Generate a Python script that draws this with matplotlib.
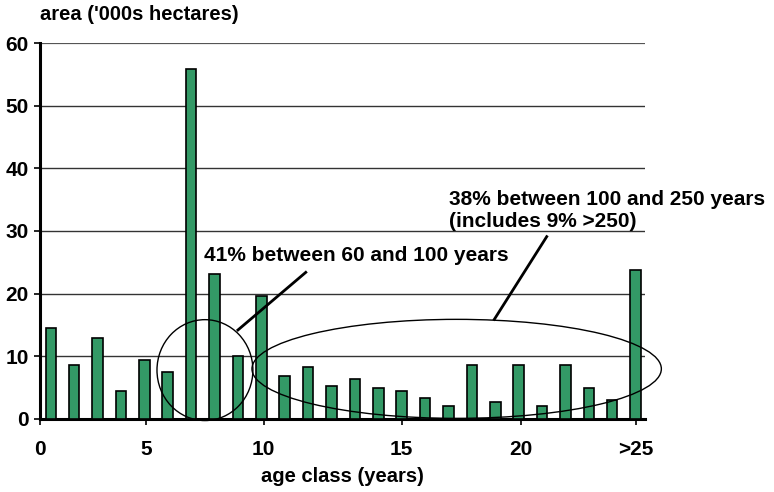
import matplotlib.pyplot as plt
from matplotlib.patches import Ellipse

plt.rcParams['font.family'] = ['Liberation Sans', 'DejaVu Sans']
plt.rcParams['font.weight'] = 'bold'

# area per age class ('000s hectares), 26 classes
area = [14.5, 8.6, 13.0, 4.5, 9.4, 7.5, 55.8, 23.1, 10.1, 19.7,
        6.8, 8.3, 5.2, 6.4, 4.9, 4.5, 3.4, 2.0, 8.6, 2.7,
        8.6, 2.0, 8.6, 4.9, 3.0, 23.8]
tick_pos = [-0.46, 4.07, 9.1, 15.0, 20.1, 25.0]
tick_labels = ['0', '5', '10', '15', '20', '>25']
note1 = '41% between 60 and 100 years'
note2 = '38% between 100 and 250 years\n(includes 9% >250)'

fig = plt.figure(figsize=(7.74, 4.92), dpi=100)
ax = fig.add_axes([0.0517, 0.1484, 0.7816, 0.7642])

x = list(range(len(area)))
ax.bar(x, area, width=0.45, color='#339966', edgecolor='black', linewidth=1.2, zorder=3)

ax.set_xlim(-0.46, 25.4)
ax.set_ylim(0, 60)
ax.set_yticks(range(0, 61, 10))
ax.set_xticks(tick_pos)
ax.set_xticklabels(tick_labels)
ax.tick_params(axis='both', labelsize=15, length=4, width=1.2)
ax.tick_params(axis='x', pad=11)
ax.tick_params(axis='y', pad=4)
for lab in ax.get_xticklabels() + ax.get_yticklabels():
    lab.set_fontweight('bold')

for y in range(10, 61, 10):
    ax.axhline(y, color='#333333' if y < 60 else '#555555', linewidth=1.0 if y < 60 else 1.6, zorder=1)

for s in ['top', 'right']:
    ax.spines[s].set_visible(False)
ax.spines['left'].set_linewidth(2.2)
ax.spines['bottom'].set_linewidth(2.2)

# annotations
ax.add_patch(Ellipse((6.59, 7.8), 4.1, 16.1, fill=False, edgecolor='black', linewidth=1, clip_on=False, zorder=4))
ax.add_patch(Ellipse((17.35, 8.0), 17.5, 15.8, fill=False, edgecolor='black', linewidth=1, clip_on=False, zorder=4))
ax.plot([8.0, 10.9], [14.2, 23.4], color='black', linewidth=2, clip_on=False, zorder=4)
ax.plot([18.96, 21.2], [15.9, 29.1], color='black', linewidth=2, clip_on=False, zorder=4)
ax.text(6.55, 26.1, note1, fontsize=15, fontweight='bold', va='center', ha='left', zorder=5)
ax.text(17.03, 33.2, note2, fontsize=15, fontweight='bold', va='center', ha='left',
        linespacing=1.2, clip_on=False, zorder=5)

fig.text(40 / 774, 1 - 15 / 492, "area ('000s hectares)", fontsize=14.5, fontweight='bold', va='center', ha='left')
fig.text(342 / 774, 1 - 477 / 492, 'age class (years)', fontsize=14.5, fontweight='bold', va='center', ha='center')

fig.savefig('out.png', dpi=100)
